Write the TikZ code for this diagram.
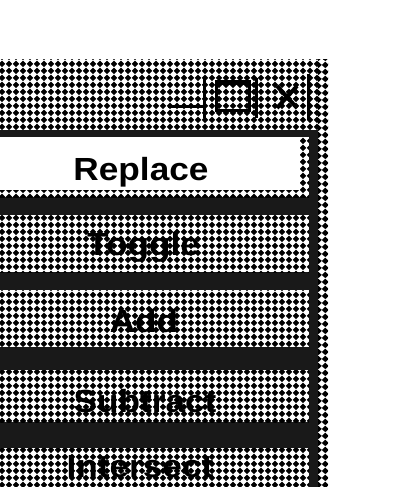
\documentclass[tikz,border=0pt]{standalone}
\usepackage{fontspec}
\newfontfamily\btnfont[FakeStretch=1.1]{Liberation Sans Bold}
\usetikzlibrary{patterns}
\pgfdeclarepatternformonly{diadots}{\pgfpointorigin}{\pgfqpoint{7pt}{7pt}}{\pgfqpoint{7pt}{7pt}}{%
  \pgfpathmoveto{\pgfqpoint{3.5pt}{-0.2pt}}%
  \pgfpathlineto{\pgfqpoint{7.2pt}{3.5pt}}%
  \pgfpathlineto{\pgfqpoint{3.5pt}{7.2pt}}%
  \pgfpathlineto{\pgfqpoint{-0.2pt}{3.5pt}}%
  \pgfpathclose\pgfusepath{fill}}
\tikzset{
  dither/.style={fill=white, postaction={pattern=diadots, pattern color=black}},
  darkband/.style={fill=black!90},
  label/.style={font=\btnfont\fontsize{32}{32}\selectfont, inner sep=0pt, anchor=base, text=black},
  icon/.style={line width=3pt, draw=black}
}
\begin{document}
\begin{tikzpicture}[x=1pt,y=-1pt]
\useasboundingbox (0,0) rectangle (401,487);
\fill[white] (0,0) rectangle (401,487);
% title bar and right frame
\path[dither] (0,60) rectangle (328,130);
\path[dither] (318,60) rectangle (328,487);
% dark frame lines
\path[darkband] (0,130) rectangle (318,137);
\path[darkband] (309,130) rectangle (318,487);
% dark background of the button column
\path[darkband] (0,137) rectangle (309,487);
% buttons
\path[dither] (0,137) rectangle (309,197);
\fill[white] (0,137) rectangle (300,190);
\path[dither] (0,215) rectangle (309,272);
\path[dither] (0,290) rectangle (309,347);
\path[dither] (0,370) rectangle (309,422);
\path[dither] (0,448) rectangle (309,487);
% title bar controls
\draw[icon] (204,78) -- (204,118);
\draw[icon] (256,78) -- (256,118);
\draw[icon] (308,74) -- (308,120);
\draw[icon] (168,106) -- (203,106);
\draw[icon] (216,81) rectangle (249,110);
\draw[line width=3pt] (216,83) -- (249,83);
\draw[line width=4pt] (277,86) -- (297,108);
\draw[line width=4pt] (297,86) -- (277,108);
% labels
\node[label] (replace) at (141,180) {Replace};
\node[label] (toggle) at (143.5,255) {Toggle};
\node[label] (add) at (144,332) {Add};
\node[label] (subtract) at (145,412) {Subtract};
\node[label] (intersect) at (140,477) {Intersect};
\end{tikzpicture}
\end{document}
